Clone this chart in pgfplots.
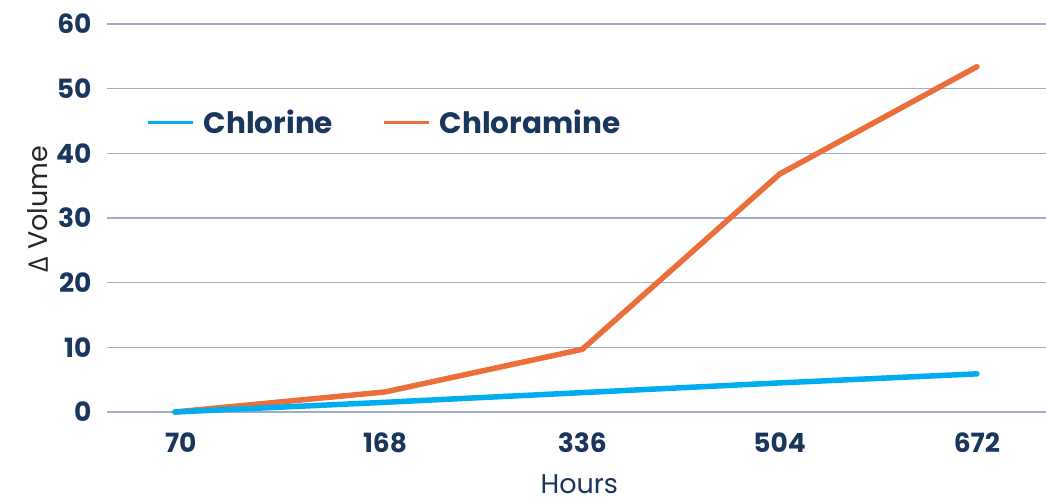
\documentclass[border=0pt]{standalone}
\usepackage{fontspec}
\setmainfont{Poppins}
\newfontfamily\greekfont{Open Sans}
\usepackage{pgfplots}
\pgfplotsset{compat=1.18}
\definecolor{navy}{HTML}{1B365D}
\definecolor{cblue}{HTML}{00AEEF}
\definecolor{corange}{HTML}{EA6F3A}
\definecolor{gridc}{HTML}{A3ACC4}
\begin{document}
\begin{tikzpicture}[x=1pt,y=1pt]
\begin{axis}[
  at={(107pt,89pt)}, anchor=south west,
  scale only axis, width=939pt, height=388pt,
  xmin=-0.409, xmax=4.35, ymin=0, ymax=60,
  axis line style={draw=none},
  major tick length=0pt, tick style={draw=none},
  ytick={0,10,...,60}, ymajorgrids, grid style={gridc, line width=1.2pt},
  xtick={-0.035,1,2,3,4}, xticklabels={70,168,336,504,672},
  /pgf/number format/assume math mode=true,
  ticklabel style={font=\bfseries\fontsize{26.5}{30}\selectfont, text=navy},
  yticklabel shift=12pt, xticklabel shift=17pt,
  clip=false,
  legend style={at={(0.0415,0.747)}, anchor=west, draw=none, fill=none, inner sep=0pt,
    font=\bfseries\fontsize{29.5}{34}\selectfont, text=navy, legend columns=2,
    /tikz/every even column/.append style={column sep=47pt}},
  legend image code/.code={\draw[#1, line width=3pt, line cap=butt] (0pt,0pt) -- (45pt,0pt); \path (54pt,0pt);},
  xlabel={Hours}, ylabel={{\greekfont Δ} Volume},
  xlabel style={at={(axis description cs:0.503,-0.185)}, anchor=center, font=\fontsize{27}{30}\selectfont, text=navy},
  ylabel style={at={(axis description cs:-0.0735,0.523)}, anchor=center, font=\fontsize{27}{30}\selectfont, text=black!85},
]
\addlegendimage{cblue}
\addlegendentry{Chlorine}
\addlegendimage{corange}
\addlegendentry{Chloramine}
\addplot[corange, line width=5.5pt, line cap=round, line join=round, forget plot]
  coordinates {(-0.065,0) (1,3.1) (2,9.7) (3,36.8) (4,53.4)};
\addplot[cblue, line width=5.5pt, line cap=round, line join=round, forget plot]
  coordinates {(-0.065,0) (1,1.5) (2,3.0) (3,4.5) (4,5.9)};
\end{axis}
\pgfresetboundingbox
\path (0,0) rectangle (1046,501);
\end{tikzpicture}
\end{document}
